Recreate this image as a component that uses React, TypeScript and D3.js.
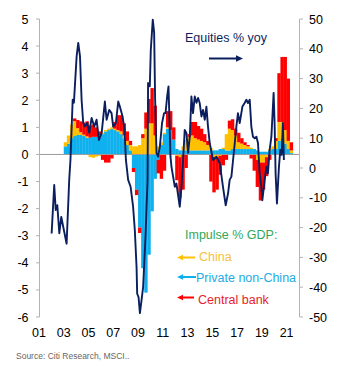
import React from 'react';
import * as d3 from 'd3';

// quarterly impulse (% GDP), starting 2003 Q1
const startYear = 2003;
const privateNonChina = [
  0.3, 0.4, 0.6, 0.68, 0.72, 0.72, 0.68, 0.62, 0.62, 0.65, 0.65, 0.7,
  0.75, 0.85, 0.9, 0.95, 0.9, 0.85, 0.75, 0.6, 0.35, 0.15, -0.5, -1.3,
  -2.7, -4.2, -5.1, -3.7, -2.1, -0.9, -0.2, 0.35, 0.75, 0.95, 0.9, 0.55,
  0.2, 0.15, 0.15, 0.15, 0.15, 0.15, 0.15, 0.15, 0.15, 0.15, 0.15, 0.15,
  0.15, 0.15, 0.2, 0.2, 0.15, 0.15, 0.2, 0.2, 0.2, 0.2, 0.2, 0.2,
  0.2, 0.2, 0.15, 0.1, 0.1, 0.1, 0.15, 0.2, 0.2, 0.5, 0.6, 0.4,
  0.2, 0.05,
];
const china = [
  0.15, 0.3, 0.5, 0.55, 0.25, 0.1, 0.05, 0.05, -0.1, -0.12, -0.08, -0.05,
  0.05, 0.05, 0.05, 0.05, 0.05, 0.05, 0.1, 0.1, 0.15, 0.2, 0.3, 0.3,
  0.35, 0.6, 0.95, 1.15, 1.15, 0.7, 0.3, 0.1, 0.05, 0.05, 0, 0,
  -0.05, -0.1, 0.15, 0.4, 0.5, 0.55, 0.45, 0.4, 0.35, 0.3, 0.2, 0.1,
  -0.1, -0.1, -0.05, 0.05, 0.6, 0.8, 0.7, 0.5, 0.25, 0.2, 0.15, 0.1,
  0.05, 0, -0.2, -0.3, -0.3, -0.1, 0.05, 0.1, 0.3, 0.7, 0.6, 0.5,
  0.3, 0.1,
];
const centralBank = [
  0, 0, 0, 0.1, 0.3, 0.4, 0.45, 0.55, 0.45, 0.45, 0.35, 0.15,
  -0.2, -0.3, -0.3, -0.15, 0.25, 0.55, 0.6, 0.45, 0.35, 0.15, -0.15, -0.2,
  -0.2, 0.15, 0.6, 0.9, 1.3, 1.1, -0.5, -0.9, -0.6, 0.6, 0.7, 0.45,
  -0.9, -1.5, -1.3, -0.5, 0.1, 0.5, 0.6, 0.5, 0.45, 0.3, 0.15, -1.0,
  -1.3, -1.2, -0.7, -0.4, -0.2, 0.3, 0.4, 0.25, 0.35, 0.2, 0.1, 0.05,
  -0.15, -0.6, -1.0, -1.4, -1.0, -0.7, -0.2, 0, 0.1, 1.8, 2.4, 2.7,
  2.3, 0.3,
];

// equities % yoy (right axis)
const eqYears = [
  2002.02, 2002.23, 2002.35, 2002.48, 2002.64, 2002.8, 2002.96, 2003.23, 2003.44, 2003.54,
  2003.72, 2003.82, 2004.04, 2004.17, 2004.31, 2004.44, 2004.57, 2004.71, 2004.9, 2005.06,
  2005.25, 2005.46, 2005.65, 2005.84, 2006.06, 2006.32, 2006.46, 2006.67, 2006.86, 2006.99,
  2007.21, 2007.4, 2007.53, 2007.75, 2007.91, 2008.02, 2008.2, 2008.4, 2008.6, 2008.74,
  2008.88, 2008.93, 2009.04, 2009.15, 2009.28, 2009.41, 2009.6, 2009.77, 2009.81, 2009.95,
  2010.03, 2010.19, 2010.3, 2010.38, 2010.49, 2010.62, 2010.76, 2010.94, 2011.1, 2011.22,
  2011.35, 2011.46, 2011.62, 2011.7, 2011.97, 2012.1, 2012.37, 2012.51, 2012.64, 2012.77,
  2012.91, 2013.04, 2013.18, 2013.31, 2013.44, 2013.58, 2013.72, 2013.85, 2013.98, 2014.12,
  2014.25, 2014.39, 2014.52, 2014.65, 2014.79, 2015.06, 2015.33, 2015.6, 2015.86, 2016.08,
  2016.27, 2016.4, 2016.54, 2016.81, 2016.94, 2017.07, 2017.21, 2017.43, 2017.61, 2017.75,
  2017.88, 2018.02, 2018.15, 2018.28, 2018.42, 2018.56, 2018.69, 2018.82, 2018.96, 2019.04,
  2019.23, 2019.36, 2019.49, 2019.63, 2019.77, 2019.95, 2020.03, 2020.11, 2020.22, 2020.38,
  2020.49, 2020.6, 2020.7, 2020.78,
];
const eqValues = [
  -22, -5.7, -14.1, -12.5, -21.9, -16.4, -19.8, -25.4, -4, 2.7,
  22.9, 21.9, 37.5, 42, 37.5, 22.9, 15.2, 13.9, 15.2, 11.8,
  16.8, 13.9, 16.2, 9.4, 11.7, 22.3, 16.2, 19.5, 18.4, 13.9,
  15.1, 22.3, 20.6, 17.3, 12.8, 2.7, -4, -6.3, -13, -20.9,
  -33.2, -42.2, -43.3, -48.7, -44.4, -40, -23.1, -4, 28.5, 27.4,
  39.7, 49.8, 45.4, 22.9, 5.1, 3.8, 7.2, 15.1, 18.4, 18.4,
  24, 27.4, 3.8, 0.4, -6.3, -5.2, -13, -6.3, 2.7, 12.8,
  11.7, 5.1, 10.5, 24, 18.4, 24, 21.9, 23.5, 21.8, 17.3,
  19.5, 16.2, 20.6, 13.9, 8.3, 2.7, 3.8, 1.6, -6.3, -12.5,
  -8.5, -4, -2.9, 8.3, 13.9, 18.4, 15.1, 20.6, 21.8, 22.9,
  21.8, 22.9, 13.9, 10.5, 10, 10.5, 8.3, -1.8, -6.3, -10.8,
  -4, 0.4, -1.8, 6.1, 10.5, 25.2, 15.1, -1.8, -11.9, 0.4,
  6.1, 4.4, 15.1, 2.7,
];

const leftTicks = d3.range(-6, 6, 1);
const rightTicks = d3.range(-50, 51, 10);
const yearTicks = d3.range(2001, 2022, 2);

const W = 361;
const H = 371;
const font = '"Liberation Sans", Arial, sans-serif';
const navy = '#0b1f5e';

const seriesKeys = ['private', 'china', 'central'];
const seriesColors: Record<string, string> = {
  private: '#0fb0ee',
  china: '#ffc000',
  central: '#ff0000',
};

export default function App() {
  const x = d3.scaleLinear().domain([2001, 2022]).range([39, 299]);
  const yL = d3.scaleLinear().domain([-6, 5]).range([317, 19]);
  const yR = d3.scaleLinear().domain([-50, 50]).range([317, 19]);

  const rows = privateNonChina.map((v, i) => ({
    t: startYear + i * 0.25,
    private: v,
    china: china[i],
    central: centralBank[i],
  }));
  const stacked = d3.stack<any>().keys(seriesKeys).offset(d3.stackOffsetDiverging)(rows);

  const eqLine = d3
    .line<number>()
    .x((_, i) => x(eqYears[i]))
    .y((d) => yR(d));

  const fmt = (v: number) => String(v).replace('\u2212', '-');

  return (
    <svg
      width={W}
      height={H}
      style={{ position: 'absolute', left: 0, top: 0, background: '#fff' }}
      fontFamily={font}
    >
      {/* stacked impulse bars */}
      {stacked.map((layer) => (
        <g key={layer.key} fill={seriesColors[layer.key]}>
          {layer.map((d, i) => {
            const y0 = yL(d[0]);
            const y1 = yL(d[1]);
            const t = rows[i].t;
            return (
              <rect
                key={i}
                x={x(t)}
                width={x(t + 0.25) - x(t) + 0.3}
                y={Math.min(y0, y1)}
                height={Math.abs(y1 - y0)}
              />
            );
          })}
        </g>
      ))}

      {/* zero line */}
      <line x1={x(2001)} x2={x(2022)} y1={yL(0)} y2={yL(0)} stroke="#9a9a9a" strokeWidth={1} />

      {/* equities line */}
      <path d={eqLine(eqValues) || ''} fill="none" stroke={navy} strokeWidth={1.9} strokeLinejoin="round" />

      {/* left axis */}
      <line x1={39.5} x2={39.5} y1={yL(5)} y2={yL(-6)} stroke="#b3b3b3" />
      {leftTicks.map((v) => (
        <g key={v}>
          <line x1={36} x2={39.5} y1={yL(v)} y2={yL(v)} stroke="#b3b3b3" />
          <text x={28.5} y={yL(v)} dy="0.36em" textAnchor="end" fontSize={12.5} fill="#000">
            {fmt(v)}
          </text>
        </g>
      ))}

      {/* right axis */}
      <line x1={299.5} x2={299.5} y1={yR(50)} y2={yR(-50)} stroke="#b3b3b3" />
      {rightTicks.map((v) => (
        <g key={v}>
          <line x1={299.5} x2={303} y1={yR(v)} y2={yR(v)} stroke="#b3b3b3" />
          <text x={309} y={yR(v)} dy="0.36em" textAnchor="start" fontSize={12.5} fill="#000">
            {fmt(v)}
          </text>
        </g>
      ))}

      {/* x labels */}
      {yearTicks.map((yr) => (
        <text key={yr} x={x(yr)} y={337} textAnchor="middle" fontSize={12.5} fill="#000">
          {String(yr).slice(2)}
        </text>
      ))}

      {/* equities label */}
      <text x={185} y={42} fontSize={12.5} fill={navy}>Equities % yoy</text>
      <line x1={209} x2={237} y1={58.5} y2={58.5} stroke={navy} strokeWidth={2} />
      <path d="M243,58.5 L236,55.3 L236,61.7 Z" fill={navy} />

      {/* impulse legend */}
      <text x={185} y={238.5} fontSize={12.5} fill="#2fa85a">Impulse % GDP:</text>

      <line x1={182} x2={195} y1={257.5} y2={257.5} stroke="#ffc000" strokeWidth={2} />
      <path d="M177,257.5 L183,254.8 L183,260.2 Z" fill="#ffc000" />
      <text x={199} y={260.5} fontSize={12.5} fill="#f5c140">China</text>

      <line x1={182} x2={196} y1={277} y2={277} stroke="#0fb0ee" strokeWidth={2} />
      <path d="M177,277 L183,274.3 L183,279.7 Z" fill="#0fb0ee" />
      <text x={196} y={281.5} fontSize={12.5} fill="#1eaae4">Private non-China</text>

      <line x1={182} x2={194} y1={297.5} y2={297.5} stroke="#ff0000" strokeWidth={2} />
      <path d="M177,297.5 L183,294.8 L183,300.2 Z" fill="#ff0000" />
      <text x={198} y={303.5} fontSize={12.5} fill="#e8222a">Central bank</text>

      <text x={16} y={359} fontSize={8.5} fill="#666">Source: Citi Research, MSCI..</text>
    </svg>
  );
}
